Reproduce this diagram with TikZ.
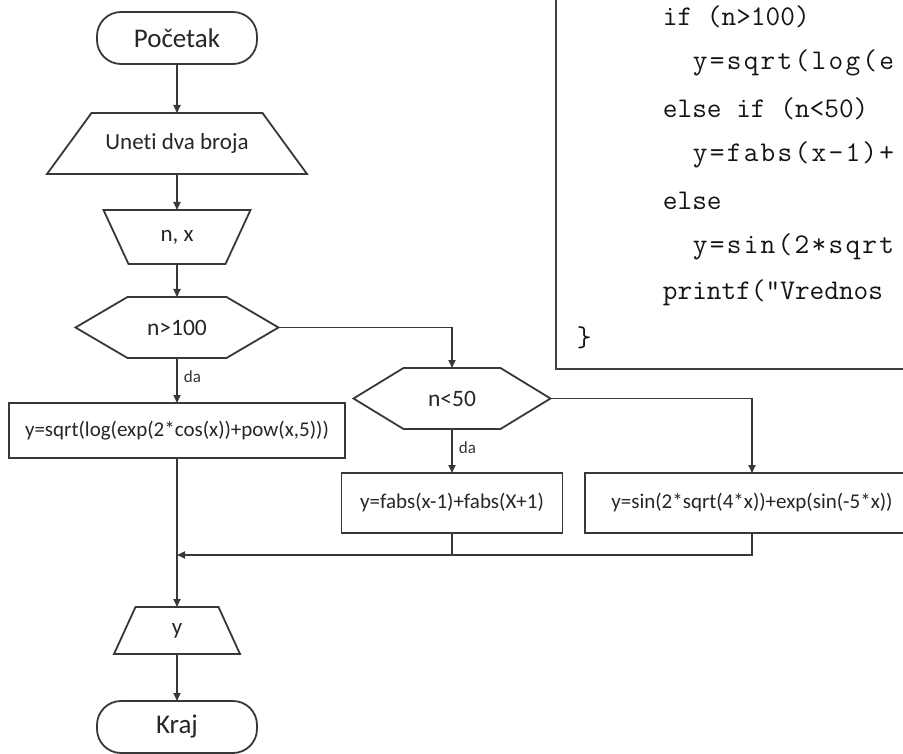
\documentclass[tikz,border=0pt]{standalone}
\usepackage{fontspec}
\setmainfont{Carlito}[Ligatures=NoCommon]
\setmonofont{Latin Modern Mono}
\usetikzlibrary{arrows.meta,calc}
\begin{document}
\begin{tikzpicture}[x=1pt,y=-1pt,line width=1.8pt,
  lc/.style={draw=black!78},
  box/.style={draw=black!78,rectangle,inner sep=0pt,outer sep=0pt,text=black!85,font=\fontsize{21}{25}\selectfont},
  term/.style={draw=black!78,rectangle,rounded corners=24pt,inner sep=0pt,outer sep=0pt,minimum width=160pt,minimum height=52pt,text=black!85,font=\fontsize{27}{30}\selectfont},
  shapebox/.style={rectangle,inner sep=0pt,outer sep=0pt,text=black!85,font=\fontsize{23}{27}\selectfont},
  arr/.style={draw=black!78,-{Triangle[length=8pt,width=7pt]}},
  conn/.style={draw=black!78},
  lbl/.style={font=\fontsize{17}{20}\selectfont,text=black!80,anchor=west,inner sep=0pt},
  code/.style={font=\ttfamily\fontsize{28.5}{30}\selectfont,anchor=west,inner sep=0pt,text=black!92},
  codewide/.style={anchor=west,inner sep=0pt,text=black!92,font=\ttfamily\fontsize{28.5}{30}\selectfont\addfontfeatures{LetterSpace=8}}
]
\useasboundingbox (0,0) rectangle (903,754);
\clip (0,0) rectangle (903,754);
\fill[white] (0,0) rectangle (903,754);

% code box
\draw[draw=black!75,line width=1.8pt] (556,-10) rectangle (930,369);
\node[code] (c1) at (662,17) {if (n>100)};
\node[codewide] (c2) at (692,63) {y=sqrt(log(e};
\node[code] (c3) at (662,109) {else if (n<50)};
\node[codewide] (c4) at (692,155) {y=fabs(x-1)+};
\node[code] (c5) at (662,201) {else};
\node[codewide] (c6) at (692,247) {y=sin(2*sqrt};
\node[code] (c7) at (662,293) {printf("Vrednos};
\node[code] (c8) at (576,338) {\}};

% flowchart nodes
\node[term] (start) at (177,38) {Početak};

\node[shapebox,minimum width=260pt,minimum height=61pt] (in1) at (177,143.5) {Unet\kern0pt i dva broja};
\draw[lc] (in1.south west) -- ($(in1.north west)+(44.5,0)$) -- ($(in1.north east)+(-44.5,0)$) -- (in1.south east) -- cycle;

\node[shapebox,minimum width=147pt,minimum height=54pt] (in2) at (177,237) {n, x};
\draw[lc] (in2.north west) -- (in2.north east) -- ($(in2.south east)+(-25,0)$) -- ($(in2.south west)+(25,0)$) -- cycle;

\node[shapebox,minimum width=203pt,minimum height=61pt,font=\fontsize{23.5}{27}\selectfont] (d1) at (177,327.5) {n>100};
\draw[lc] (d1.west) -- ($(d1.north west)+(52,0)$) -- ($(d1.north east)+(-52,0)$) -- (d1.east) -- ($(d1.south east)+(-52,0)$) -- ($(d1.south west)+(52,0)$) -- cycle;

\node[box,minimum width=336pt,minimum height=55pt] (b1) at (177,430.5) {y=sqrt(log(exp(2*cos(x))+pow(x,5)))};

\node[shapebox,minimum width=197pt,minimum height=61pt,font=\fontsize{23.5}{27}\selectfont] (d2) at (452,398.5) {n<50};
\draw[lc] (d2.west) -- ($(d2.north west)+(50,0)$) -- ($(d2.north east)+(-50,0)$) -- (d2.east) -- ($(d2.south east)+(-50,0)$) -- ($(d2.south west)+(50,0)$) -- cycle;

\node[box,minimum width=221pt,minimum height=60pt] (b2) at (452,503) {y=fabs(x-1)+fabs(X+1)};
\node[box,minimum width=334pt,minimum height=60pt] (b3) at (752,503) {y=sin(2*sqrt(4*x))+exp(sin(-5*x))};

\node[shapebox,minimum width=126pt,minimum height=47pt] (out) at (177,630.5) {y};
\draw[lc] (out.south west) -- ($(out.north west)+(21.5,0)$) -- ($(out.north east)+(-21.5,0)$) -- (out.south east) -- cycle;

\node[term] (end) at (177,727) {Kraj};

% connectors
\draw[arr] (start) -- (in1);
\draw[arr] (in1) -- (in2);
\draw[arr] (in2) -- (d1);
\draw[arr] (d1) -- node[lbl,pos=0.42,xshift=6pt] (da1) {da} (b1);
\draw[arr] (d1.east) -| (d2.north);
\draw[arr] (d2) -- node[lbl,pos=0.42,xshift=6pt] (da2) {da} (b2);
\draw[arr] (d2.east) -| (b3.north);
\coordinate (m) at (177,555);
\draw[arr] (b1) -- (out);
\draw[arr] (b3.south) |- (m);
\draw[conn] (b2.south) -- (b2.south |- m);
\draw[arr] (out) -- (end);
\end{tikzpicture}
\end{document}
